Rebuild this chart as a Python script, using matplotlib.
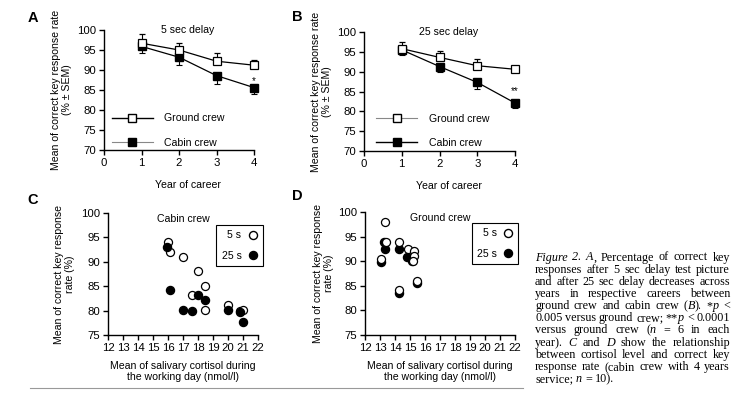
import matplotlib
matplotlib.use("Agg")
import matplotlib.pyplot as plt
from matplotlib.lines import Line2D

plt.rcParams['font.family'] = ['Liberation Sans', 'DejaVu Sans']

# ---------------- data ----------------
years = [1, 2, 3, 4]
year_ticks = [0, 1, 2, 3, 4]
a_ground = [96.7, 95.0, 92.2, 91.2]
a_ground_sem = [2.2, 1.8, 2.0, 1.3]
a_cabin = [95.9, 93.2, 88.6, 85.6]
a_cabin_sem = [1.7, 2.0, 2.0, 1.7]
b_ground = [95.8, 93.6, 91.5, 90.6]
b_ground_sem = [1.6, 1.5, 1.6, 0.5]
b_cabin = [95.5, 91.3, 87.3, 82.1]
b_cabin_sem = [1.3, 1.4, 1.7, 1.3]
a_yticks = [70, 75, 80, 85, 90, 95, 100]

c_x5 = [16.0, 16.1, 17.0, 18.0, 18.5, 17.6, 18.5, 20.0, 20.8, 21.0]
c_y5 = [94.0, 92.0, 91.0, 88.2, 85.1, 83.1, 80.1, 81.1, 80.0, 80.1]
c_x25 = [15.95, 16.1, 17.0, 17.6, 18.0, 18.5, 20.0, 20.8, 21.0]
c_y25 = [93.1, 84.2, 80.2, 80.0, 83.1, 82.2, 80.1, 79.8, 77.6]

d_x5 = [13.05, 13.3, 13.38, 14.28, 14.28, 14.88, 15.27, 15.25, 15.18, 15.47]
d_y5 = [90.5, 97.9, 94.0, 94.0, 84.1, 92.5, 92.0, 91.1, 90.0, 86.0]
d_x25 = [13.05, 13.25, 13.35, 14.28, 14.28, 14.82, 15.15, 15.45]
d_y25 = [89.9, 94.0, 92.4, 92.5, 83.6, 90.8, 90.0, 85.5]

cort_ticks = list(range(12, 23))
c_yticks = [75, 80, 85, 90, 95, 100]

W, H = 748, 397
fig = plt.figure(figsize=(W / 100, H / 100), dpi=100)

FS = 8.2     # tick labels
LFS = 7.6    # axis labels, titles, legends

def ax_px(x0, y_top, x1, y_bot):
    return fig.add_axes([x0 / W, 1 - y_bot / H, (x1 - x0) / W, (y_bot - y_top) / H])

def style(ax):
    for s in ['top', 'right']:
        ax.spines[s].set_visible(False)
    for s in ['left', 'bottom']:
        ax.spines[s].set_linewidth(1.0)
    ax.tick_params(direction='out', length=3.5, width=1.0, labelsize=FS, pad=2)
    ax.patch.set_alpha(0)

def line_panel(ax, g, gs, c, cs, title, ylab_x, star, star_dy):
    ax.set_xlim(0, 4)
    ax.set_ylim(70, 100)
    ax.set_xticks(year_ticks)
    ax.set_yticks(a_yticks)
    style(ax)
    ax.errorbar(years, c, yerr=[cs, [0] * 4], fmt='-s', color='black', mfc='black',
                mec='black', ms=5.5, lw=0.9, elinewidth=0.8, capsize=2.5, capthick=0.8,
                clip_on=False, zorder=3)
    ax.errorbar(years, g, yerr=[[0] * 4, gs], fmt='-s', color='black', mfc='white',
                mec='black', ms=5.5, mew=0.9, lw=0.9, elinewidth=0.8, capsize=2.5,
                capthick=0.8, clip_on=False, zorder=4)
    ax.text(0.56, 1.0, title, transform=ax.transAxes, ha='center', va='center', fontsize=LFS)
    ax.set_xlabel('Year of career', fontsize=LFS)
    ax.xaxis.set_label_coords(0.56, -0.25)
    ax.set_ylabel('Mean of correct key response rate\n(% \u00b1 SEM)', fontsize=LFS,
                  linespacing=1.15)
    ax.yaxis.set_label_coords(ylab_x, 0.5)
    ax.text(4, c[-1] + star_dy, star, ha='center', va='center', fontsize=7)

def line_legend(ax, handles, anchor):
    ax.legend(handles, ['Ground crew', 'Cabin crew'], loc='lower left', bbox_to_anchor=anchor,
              frameon=False, handlelength=3.9, handletextpad=1.1, labelspacing=1.35,
              fontsize=LFS, borderaxespad=0.0, borderpad=0.0)

# Panel A
axA = ax_px(104, 30, 254, 150)
line_panel(axA, a_ground, a_ground_sem, a_cabin, a_cabin_sem, '5 sec delay', -0.21, '*', 1.7)
hA = [Line2D([0], [0], color='black', lw=1.0, marker='s', mfc='white', mec='black', ms=6),
      Line2D([0], [0], color='#888888', lw=0.8, marker='s', mfc='black', mec='black', ms=6)]
line_legend(axA, hA, (0.05, 0.02))

# Panel B
axB = ax_px(364, 32, 515, 151)
line_panel(axB, b_ground, b_ground_sem, b_cabin, b_cabin_sem, '25 sec delay', -0.21, '**', 3.1)
hB = [Line2D([0], [0], color='#888888', lw=0.8, marker='s', mfc='white', mec='black', ms=6),
      Line2D([0], [0], color='black', lw=1.0, marker='s', mfc='black', mec='black', ms=6)]
line_legend(axB, hB, (0.08, 0.025))

def scatter_panel(ax, x5, y5, x25, y25, title, ylab_x, open_top, leg_anchor):
    ax.set_xlim(12, 22)
    ax.set_ylim(75, 100)
    ax.set_xticks(cort_ticks)
    ax.set_yticks(c_yticks)
    style(ax)
    z5, z25 = (4, 3) if open_top else (3, 4)
    ax.plot(x5, y5, 'o', mfc='white', mec='black', mew=0.9, ms=5.8, ls='none',
            zorder=z5, clip_on=False)
    ax.plot(x25, y25, 'o', mfc='black', mec='black', ms=5.8, ls='none',
            zorder=z25, clip_on=False)
    ax.text(0.5, 0.95, title, transform=ax.transAxes, ha='center', va='center', fontsize=LFS)
    ax.set_xlabel('Mean of salivary cortisol during\nthe working day (nmol/l)', fontsize=LFS,
                  linespacing=1.2)
    ax.xaxis.set_label_coords(0.5, -0.21)
    ax.set_ylabel('Mean of correct key response\nrate (%)', fontsize=LFS, linespacing=1.15)
    ax.yaxis.set_label_coords(ylab_x, 0.5)
    h = [Line2D([0], [0], ls='none', marker='o', mfc='white', mec='black', ms=5.8),
         Line2D([0], [0], ls='none', marker='o', mfc='black', mec='black', ms=5.8)]
    leg = ax.legend(h, ['5 s', '25 s'], loc='upper right', bbox_to_anchor=leg_anchor,
                    markerfirst=False, frameon=True, fancybox=False, edgecolor='black',
                    handlelength=0.8, handletextpad=0.7, labelspacing=1.0, fontsize=LFS,
                    borderpad=0.5, borderaxespad=0.0, framealpha=1)
    leg.get_frame().set_linewidth(0.8)
    leg.set_zorder(2)

axC = ax_px(108, 213, 258, 335)
scatter_panel(axC, c_x5, c_y5, c_x25, c_y25, 'Cabin crew', -0.22, False, (1.03, 0.9))
axD = ax_px(365, 212, 515, 335)
scatter_panel(axD, d_x5, d_y5, d_x25, d_y25, 'Ground crew', -0.207, True, (1.02, 0.91))

# panel letters
for lab, x, y in [('A', 33, 18), ('B', 297, 17), ('C', 33, 200), ('D', 297, 196)]:
    fig.text(x / W, 1 - y / H, lab, fontsize=10.5, fontweight='bold', ha='center', va='center')

# bottom rule
fig.add_artist(Line2D([30 / W, 523 / W], [1 - 388 / H, 1 - 388 / H], color='#999999', lw=0.8))

# ---------------- caption (justified) ----------------
cap_lines = [
    [[("Figure", 1)], [("2.", 1)], [("A", 1), (",", 0)], [("Percentage", 0)], [("of", 0)],
     [("correct", 0)], [("key", 0)]],
    "responses after 5 sec delay test picture",
    "and after 25 sec delay decreases across",
    "years in respective careers between",
    [[("ground", 0)], [("crew", 0)], [("and", 0)], [("cabin", 0)], [("crew", 0)],
     [("(", 0), ("B", 1), (").", 0)], [("*", 0), ("p", 1)], [("<", 0)]],
    [[("0.005", 0)], [("versus", 0)], [("ground", 0)], [("crew;", 0)], [("**", 0), ("p", 1)],
     [("<", 0)], [("0.0001", 0)]],
    [[("versus", 0)], [("ground", 0)], [("crew", 0)], [("(", 0), ("n", 1)], [("=", 0)],
     [("6", 0)], [("in", 0)], [("each", 0)]],
    [[("year).", 0)], [("C", 1)], [("and", 0)], [("D", 1)], [("show", 0)], [("the", 0)],
     [("relationship", 0)]],
    "between cortisol level and correct key",
    "response rate (cabin crew with 4 years",
    [[("service;", 0)], [("n", 1)], [("=", 0)], [("10).", 0)]],
]
cap_x0, cap_x1 = 535, 730
cap_y0, cap_dy = 260.5, 12.15
CFS = 8.7
renderer = fig.canvas.get_renderer()
st = fig.text(0, 0, 'a a', fontsize=CFS, family=['Liberation Serif'])
st2 = fig.text(0, 0, 'aa', fontsize=CFS, family=['Liberation Serif'])
space_w = st.get_window_extent(renderer).width - st2.get_window_extent(renderer).width
st.remove()
st2.remove()
for i, line in enumerate(cap_lines):
    if isinstance(line, str):
        line = [[(w, 0)] for w in line.split()]
    y = 1 - (cap_y0 + i * cap_dy) / H
    tokens = []
    for word in line:
        runs = []
        for s, it in word:
            t = fig.text(0, y, s, fontsize=CFS, family=['Liberation Serif'],
                         style='italic' if it else 'normal', va='baseline', ha='left')
            w = t.get_window_extent(renderer).width
            runs.append((t, w))
        tokens.append(runs)
    total = sum(w for runs in tokens for _, w in runs)
    last = (i == len(cap_lines) - 1)
    if last or len(tokens) < 2:
        gap = space_w
    else:
        gap = (cap_x1 - cap_x0 - total) / (len(tokens) - 1)
    x = cap_x0
    for runs in tokens:
        for t, w in runs:
            t.set_x(x / W)
            x += w
        x += gap

fig.savefig('out.png', dpi=100)
